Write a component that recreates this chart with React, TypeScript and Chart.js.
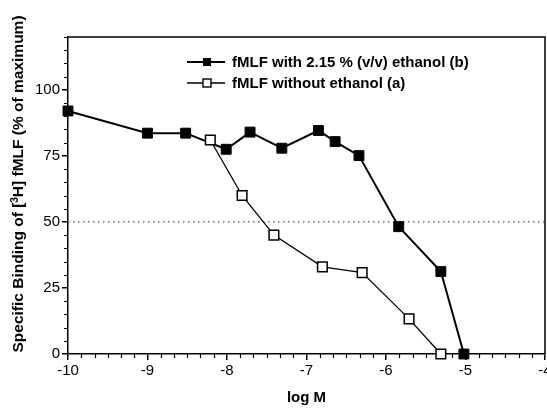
import React, { useEffect, useRef } from "react";
import { Chart, registerables } from "chart.js";

Chart.register(...registerables);

// Series (b): fMLF with 2.15 % (v/v) ethanol
const logMWithEthanol = [-10, -9, -8.52, -8.01, -7.71, -7.31, -6.85, -6.64, -6.34, -5.84, -5.31, -5.02];
const bindingWithEthanol = [92, 83.6, 83.6, 77.5, 84, 77.9, 84.6, 80.4, 75.1, 48.2, 31.2, 0];
// Series (a): fMLF without ethanol
const logMWithoutEthanol = [-8.21, -7.81, -7.41, -6.8, -6.3, -5.71, -5.31];
const bindingWithoutEthanol = [81, 60, 45, 33, 30.8, 13.3, 0];
// 50 % reference line
const refLineX = [-10, -4];
const refLineY = [50, 50];

const labelWith = "fMLF with 2.15 % (v/v) ethanol (b)";
const labelWithout = "fMLF without ethanol (a)";
const xTitle = "log M";
const yTitleParts = ["Specific Binding of [", "3", "H] fMLF (% of maximum)"];

const xMin = -10, xMax = -4, xStep = 1, xMinorPerMajor = 6;
const yMin = 0, yMax = 120, yStep = 25, yLabelMax = 100, yMinorStep = 5;

const FONT = "'Liberation Sans', Arial, Helvetica, sans-serif";

const toPts = (xs: number[], ys: number[]) => xs.map((x, i) => ({ x, y: ys[i] }));

const zeroPad = () => ({ left: 0, right: 0, top: 0, bottom: 0 });

const decorPlugin = {
  id: "decor",
  beforeDatasetsDraw(chart: any) {
    const { ctx, chartArea: a, scales } = chart;
    const xs = scales.x, ys = scales.y;
    ctx.save();
    ctx.strokeStyle = "#000";
    ctx.lineWidth = 1.5;
    // top and right frame
    ctx.beginPath();
    ctx.moveTo(a.left, a.top);
    ctx.lineTo(a.right, a.top);
    ctx.lineTo(a.right, a.bottom);
    ctx.stroke();
    // minor ticks
    ctx.lineWidth = 1.2;
    ctx.beginPath();
    for (let v = yMin; v <= yMax + 1e-9; v += yMinorStep) {
      if (v % yStep === 0 && v <= yLabelMax) continue;
      const py = Math.round(ys.getPixelForValue(v)) + 0.5;
      ctx.moveTo(a.left - 4, py);
      ctx.lineTo(a.left, py);
    }
    for (let m = xMin; m < xMax; m += xStep) {
      for (let k = 1; k < xMinorPerMajor; k++) {
        const v = m + (k * xStep) / xMinorPerMajor;
        const px = Math.round(xs.getPixelForValue(v)) + 0.5;
        ctx.moveTo(px, a.bottom);
        ctx.lineTo(px, a.bottom + 4);
      }
    }
    ctx.stroke();
    ctx.restore();
  },
  afterDraw(chart: any) {
    const { ctx, chartArea: a } = chart;
    ctx.save();
    ctx.fillStyle = "#000";
    ctx.strokeStyle = "#000";
    // legend
    const rows = [
      { label: labelWith, filled: true, lw: 2 },
      { label: labelWithout, filled: false, lw: 1.3 },
    ];
    const lx0 = a.left + 119, lx1 = a.left + 157, mx = a.left + 139, tx = a.left + 164;
    rows.forEach((r, i) => {
      const y = a.top + 25 + i * 21;
      ctx.lineWidth = r.lw;
      ctx.beginPath();
      ctx.moveTo(lx0, y);
      ctx.lineTo(lx1, y);
      ctx.stroke();
      const s = 8;
      if (r.filled) {
        ctx.fillStyle = "#000";
        ctx.fillRect(mx - s / 2, y - s / 2, s, s);
      } else {
        ctx.fillStyle = "#fff";
        ctx.fillRect(mx - s / 2, y - s / 2, s, s);
        ctx.lineWidth = 1.4;
        ctx.strokeRect(mx - s / 2, y - s / 2, s, s);
      }
      ctx.fillStyle = "#000";
      ctx.font = `bold 15px ${FONT}`;
      ctx.textBaseline = "middle";
      ctx.textAlign = "left";
      ctx.fillText(r.label, tx, y + 1);
    });
    // x title
    ctx.font = `bold 15px ${FONT}`;
    ctx.textAlign = "center";
    ctx.textBaseline = "middle";
    ctx.fillText(xTitle, (a.left + a.right) / 2, a.bottom + 44);
    // y title (rotated, with superscript)
    ctx.translate(19, a.top + 147);
    ctx.rotate(-Math.PI / 2);
    const big = `bold 15.5px ${FONT}`;
    const small = `bold 10px ${FONT}`;
    ctx.font = big;
    const w0 = ctx.measureText(yTitleParts[0]).width;
    const w2 = ctx.measureText(yTitleParts[2]).width;
    ctx.font = small;
    const w1 = ctx.measureText(yTitleParts[1]).width;
    const total = w0 + w1 + w2;
    let cx = -total / 2;
    ctx.textAlign = "left";
    ctx.textBaseline = "middle";
    ctx.font = big;
    ctx.fillText(yTitleParts[0], cx, 0);
    cx += w0;
    ctx.font = small;
    ctx.fillText(yTitleParts[1], cx, -4);
    cx += w1;
    ctx.font = big;
    ctx.fillText(yTitleParts[2], cx, 0);
    ctx.restore();
  },
};

export default function App() {
  const ref = useRef<HTMLCanvasElement | null>(null);
  useEffect(() => {
    if (!ref.current) return;
    const chart = new Chart(ref.current, {
      type: "line",
      data: {
        datasets: [
          {
            label: labelWith,
            data: toPts(logMWithEthanol, bindingWithEthanol),
            borderColor: "#000",
            backgroundColor: "#000",
            borderWidth: 2,
            pointStyle: "rect",
            pointRadius: 7,
            pointBorderWidth: 1,
            pointBackgroundColor: "#000",
            pointBorderColor: "#000",
            clip: false as any,
            order: 1,
          },
          {
            label: labelWithout,
            data: toPts(logMWithoutEthanol, bindingWithoutEthanol),
            borderColor: "#000",
            backgroundColor: "#fff",
            borderWidth: 1.3,
            pointStyle: "rect",
            pointRadius: 6.8,
            pointBorderWidth: 1.5,
            pointBackgroundColor: "#fff",
            pointBorderColor: "#000",
            clip: false as any,
            order: 0,
          },
          {
            label: "50%",
            data: toPts(refLineX, refLineY),
            borderColor: "#222",
            borderWidth: 1,
            borderDash: [1.5, 3.5],
            pointRadius: 0,
            order: 2,
          },
        ],
      },
      options: {
        animation: false,
        responsive: false,
        layout: { autoPadding: false, padding: { top: 37, right: 2, left: 0, bottom: 0 } },
        plugins: { legend: { display: false }, tooltip: { enabled: false } },
        scales: {
          x: {
            type: "linear",
            min: xMin,
            max: xMax,
            ticks: {
              stepSize: xStep,
              color: "#000",
              font: { family: FONT, size: 15 },
              padding: 2,
              maxRotation: 0,
            },
            grid: { display: true, drawOnChartArea: false, drawTicks: true, tickLength: 6, color: "#000", lineWidth: 1.5 },
            border: { display: true, color: "#000", width: 1.5 },
            afterFit(scale: any) {
              scale.height = 56;
              scale.paddingLeft = 0;
              scale.paddingRight = 0;
              scale.getPadding = zeroPad;
            },
          },
          y: {
            type: "linear",
            min: yMin,
            max: yMax,
            ticks: {
              stepSize: yStep,
              includeBounds: false,
              color: "#000",
              font: { family: FONT, size: 15 },
              padding: 2,
              callback: (v: any) => (Number(v) <= yLabelMax ? String(v) : ""),
            },
            grid: { display: true, drawOnChartArea: false, drawTicks: true, tickLength: 6, color: "#000", lineWidth: 1.5 },
            border: { display: true, color: "#000", width: 1.5 },
            afterFit(scale: any) {
              scale.width = 68;
              scale.paddingTop = 0;
              scale.paddingBottom = 0;
              scale.getPadding = zeroPad;
            },
          },
        },
      },
      plugins: [decorPlugin],
    });
    return () => chart.destroy();
  }, []);
  return (
    <div style={{ position: "fixed", left: 0, top: 0, width: 547, height: 410, background: "#fff" }}>
      <canvas ref={ref} width={547} height={410} style={{ display: "block" }} />
    </div>
  );
}
